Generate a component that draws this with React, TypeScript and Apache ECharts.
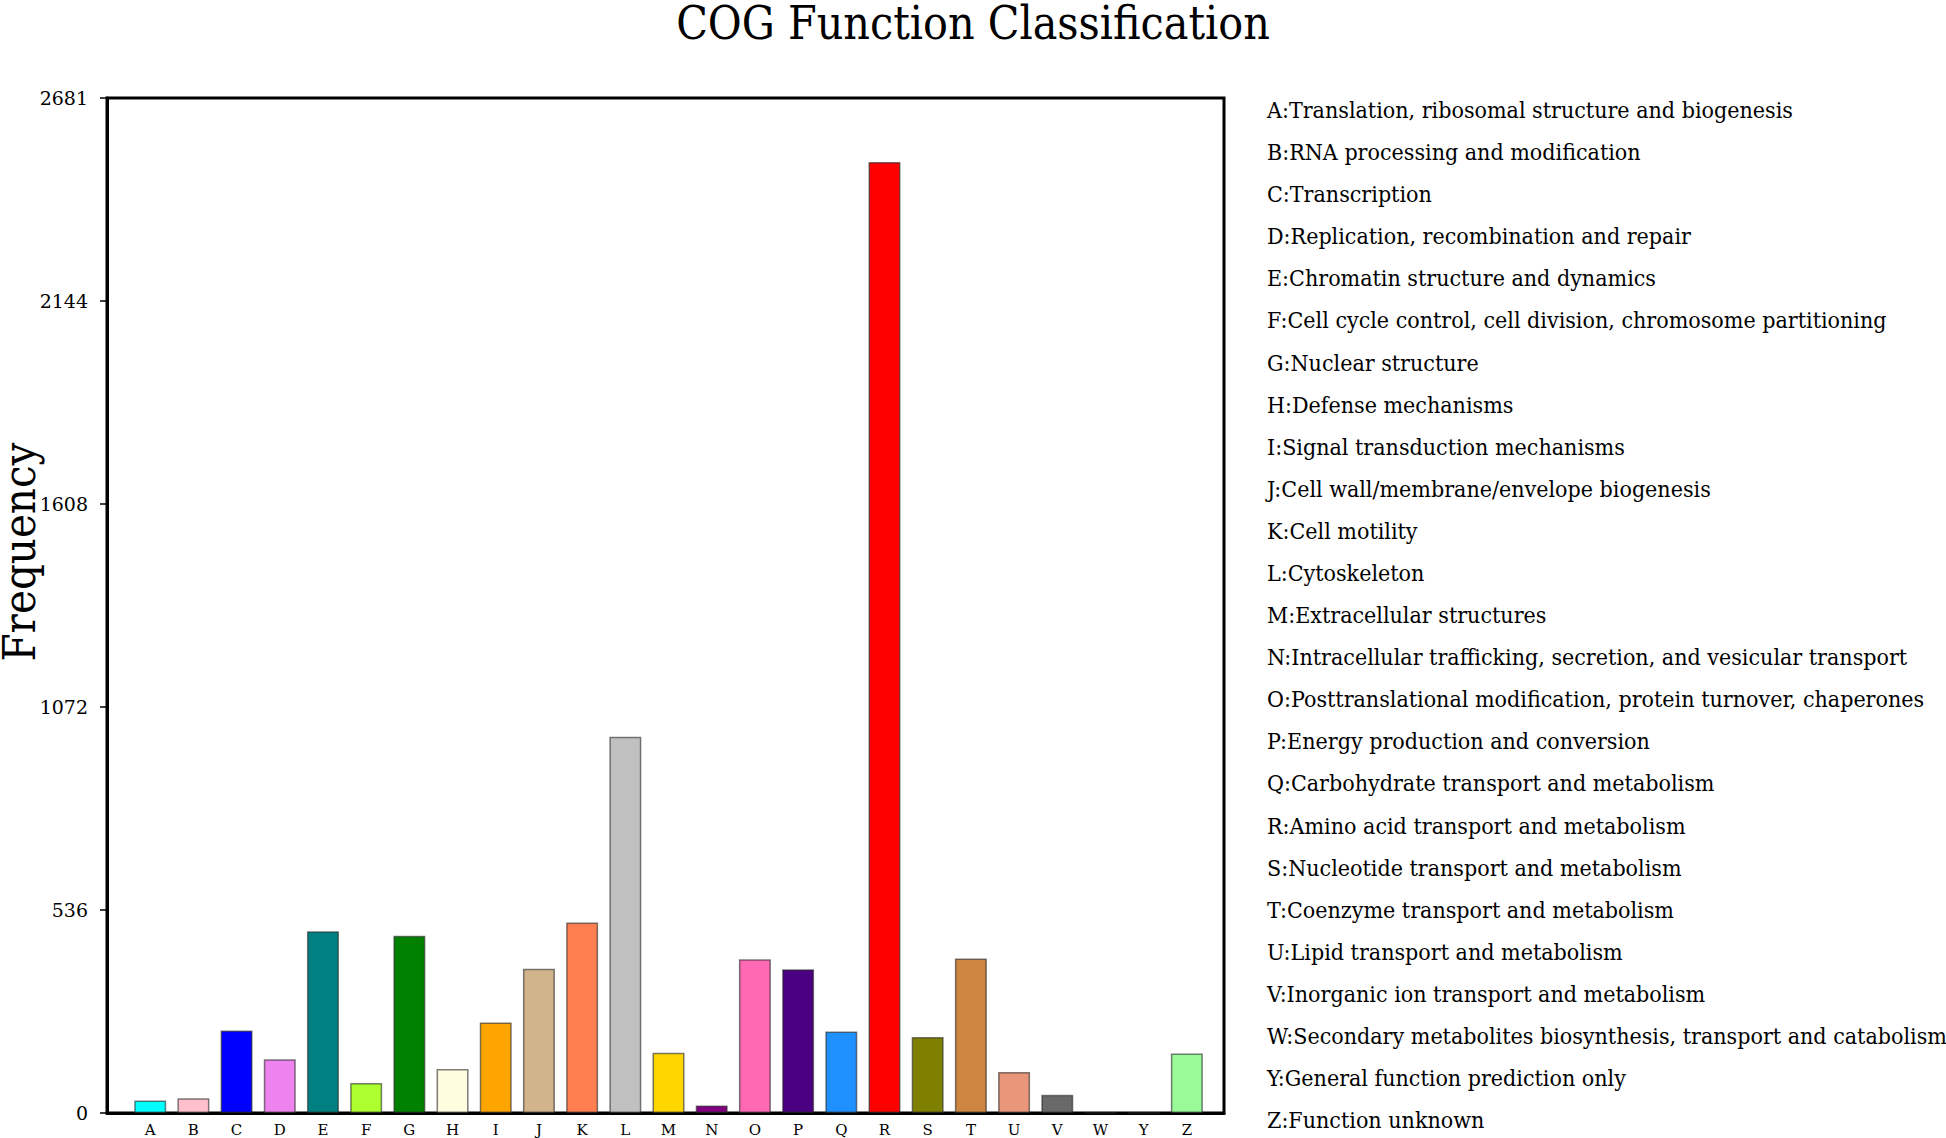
import React, { useEffect, useRef } from "react";
import * as echarts from "echarts";

const categories = ["A","B","C","D","E","F","G","H","I","J","K","L","M","N","O","P","Q","R","S","T","U","V","W","Y","Z"];
const counts = [33,39,218,142,480,79,468,116,239,381,503,994,159,20,406,380,215,2512,201,408,108,48,0,0,157];
const barColors = ["#00FFFF","#FFC0CB","#0000FF","#EE82EE","#008080","#ADFF2F","#008000","#FFFDE0","#FFA500","#D2B48C","#FF7F50","#C0C0C0","#FFD700","#800080","#FF69B4","#4B0082","#1E90FF","#FF0000","#808000","#CD853F","#E9967A","#696969","#999999","#999999","#98FB98"];
const yTickLabels = ["0","536","1072","1608","2144","2681"];
const descriptions = [
  "A:Translation, ribosomal structure and biogenesis",
  "B:RNA processing and modification",
  "C:Transcription",
  "D:Replication, recombination and repair",
  "E:Chromatin structure and dynamics",
  "F:Cell cycle control, cell division, chromosome partitioning",
  "G:Nuclear structure",
  "H:Defense mechanisms",
  "I:Signal transduction mechanisms",
  "J:Cell wall/membrane/envelope biogenesis",
  "K:Cell motility",
  "L:Cytoskeleton",
  "M:Extracellular structures",
  "N:Intracellular trafficking, secretion, and vesicular transport",
  "O:Posttranslational modification, protein turnover, chaperones",
  "P:Energy production and conversion",
  "Q:Carbohydrate transport and metabolism",
  "R:Amino acid transport and metabolism",
  "S:Nucleotide transport and metabolism",
  "T:Coenzyme transport and metabolism",
  "U:Lipid transport and metabolism",
  "V:Inorganic ion transport and metabolism",
  "W:Secondary metabolites biosynthesis, transport and catabolism",
  "Y:General function prediction only",
  "Z:Function unknown",
];

const SERIF_C = '"DejaVu Serif Condensed", "DejaVu Serif", "Liberation Serif", serif';
const SERIF = '"DejaVu Serif", "Liberation Serif", serif';

export default function App() {
  const ref = useRef<HTMLDivElement>(null);
  useEffect(() => {
    if (!ref.current) return;
    const chart = echarts.init(ref.current, undefined, { renderer: "svg" });
    const yMax = 2681;
    const yStep = yMax / 5;
    const xMax = categories.length + 0.86;
    const barData = counts.map((v, i) => ({
      value: [i + 1, v],
      itemStyle: { color: barColors[i] },
    }));
    chart.setOption({
      animation: false,
      backgroundColor: "#fff",
      title: {
        text: "COG Function Classification",
        left: "center",
        top: -5,
        textStyle: { fontFamily: SERIF_C, fontSize: 46, fontWeight: "normal", color: "#000" },
      },
      grid: {
        left: 107, top: 98, right: 722, bottom: 25,
        outerBoundsMode: "none",
        containLabel: false,
        show: true, borderColor: "#000", borderWidth: 3, backgroundColor: "transparent",
      },
      xAxis: {
        type: "value",
        min: 0,
        max: xMax,
        interval: 1,
        axisLine: { show: true, lineStyle: { color: "#000", width: 3 } },
        axisTick: { show: false },
        axisLabel: {
          color: "#000", fontFamily: SERIF, fontSize: 15, margin: 9,
          showMaxLabel: false, showMinLabel: false,
          formatter: (v: number) => (Number.isInteger(v) && v >= 1 && v <= categories.length ? categories[v - 1] : ""),
        },
        splitLine: { show: false },
      },
      yAxis: {
        type: "value",
        min: 0,
        max: yMax,
        interval: yStep,
        axisLine: { show: true, lineStyle: { color: "#000", width: 3 } },
        axisTick: { show: true, length: 7, lineStyle: { color: "#000", width: 1.5 } },
        axisLabel: {
          color: "#000", fontFamily: SERIF, fontSize: 19, margin: 19,
          formatter: (v: number) => yTickLabels[Math.round(v / yStep)] ?? "",
        },
        splitLine: { show: false },
      },
      series: [{
        type: "bar",
        data: barData,
        barWidth: 32,
        itemStyle: { borderColor: "rgba(40,40,40,0.6)", borderWidth: 1.5 },
      }],
      graphic: [
        {
          type: "text",
          x: 19,
          y: 552,
          rotation: Math.PI / 2,
          style: {
            text: "Frequency", fontFamily: SERIF_C, fontSize: 45, fill: "#000",
            align: "center", verticalAlign: "middle",
          },
        },
        ...descriptions.map((t, i) => ({
          type: "text",
          x: 1267,
          y: 110 + i * 42.09,
          style: { text: t, fontFamily: SERIF_C, fontSize: 23, fill: "#000", verticalAlign: "middle" },
        })),
      ],
    });
    return () => chart.dispose();
  }, []);
  return <div ref={ref} style={{ position: "fixed", left: 0, top: 0, width: 1946, height: 1138 }} />;
}
